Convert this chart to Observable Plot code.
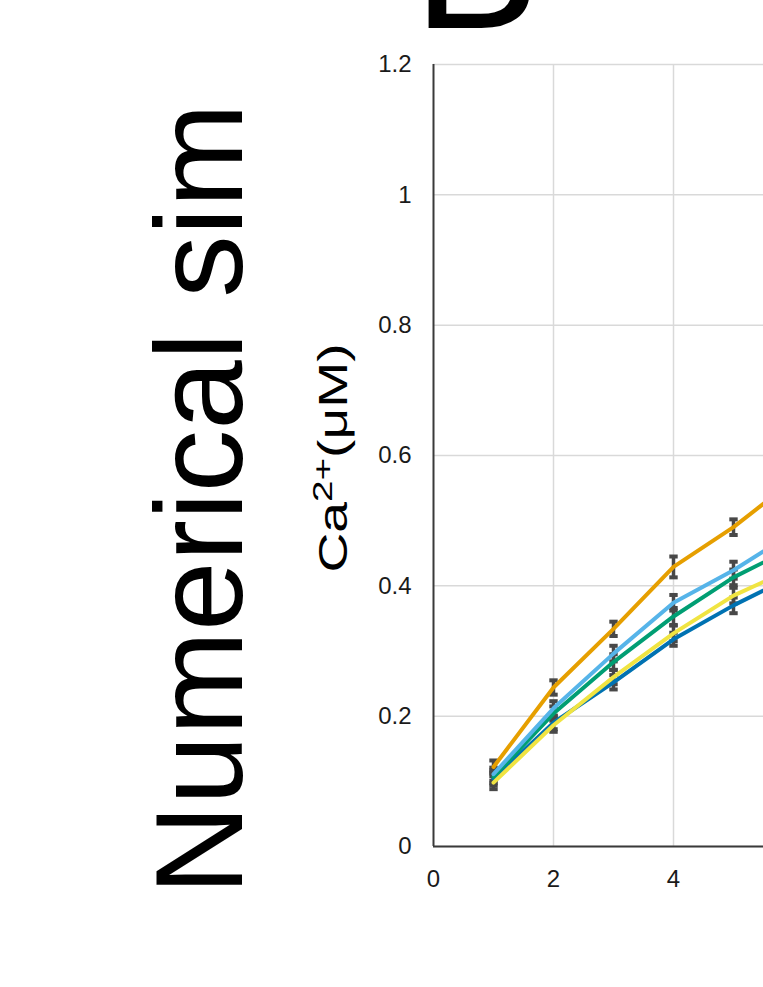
<!DOCTYPE html>
<html>
<head>
<meta charset="utf-8">
<script src="https://cdn.jsdelivr.net/npm/d3@7"></script>
<script src="https://cdn.jsdelivr.net/npm/@observablehq/plot@0.6"></script>
<style>
  html, body { margin: 0; padding: 0; background: #fff; }
  #chart svg { display: block; }
</style>
</head>
<body>
<div id="chart"></div>
<script>
// ---- Data ----
const timePoints = [1, 2, 3, 4, 5, 6];
const seriesNames = ["Series A", "Series B", "Series C", "Series D", "Series E"];
const seriesColors = ["#0072B2", "#009E73", "#56B4E9", "#F0E442", "#E69F00"];
const valuesA = [0.104, 0.190, 0.252, 0.318, 0.370, 0.416]; // dark blue
const valuesB = [0.107, 0.204, 0.283, 0.353, 0.413, 0.459]; // green
const valuesC = [0.111, 0.212, 0.296, 0.374, 0.424, 0.482]; // light blue
const valuesD = [0.098, 0.186, 0.260, 0.327, 0.385, 0.427]; // yellow
const valuesE = [0.122, 0.244, 0.334, 0.429, 0.490, 0.562]; // orange
const errorsA = [0.010, 0.010, 0.011, 0.010, 0.012, 0.012];
const errorsB = [0.010, 0.011, 0.012, 0.013, 0.012, 0.013];
const errorsC = [0.010, 0.011, 0.012, 0.012, 0.013, 0.013];
const errorsD = [0.010, 0.010, 0.011, 0.012, 0.012, 0.012];
const errorsE = [0.010, 0.011, 0.011, 0.016, 0.012, 0.013];
const yTicks = [0, 0.2, 0.4, 0.6, 0.8, 1, 1.2];
const xTicks = [0, 2, 4];
const xGrid = [2, 4, 6];
const yLabelMain = "Ca";
const yLabelSup = "2+";
const yLabelUnit = "(μM)";
const panelLetter = "B";
const rowLabel = "Numerical sim";

const allValues = [valuesA, valuesB, valuesC, valuesD, valuesE];
const allErrors = [errorsA, errorsB, errorsC, errorsD, errorsE];
const rows = [];
seriesNames.forEach((name, si) => {
  timePoints.forEach((t, i) => {
    rows.push({series: name, t, v: allValues[si][i], e: allErrors[si][i]});
  });
});

const W = 763, H = 987;
const font = "'Liberation Sans', Arial, Helvetica, sans-serif";

const plot = Plot.plot({
  width: W,
  height: H,
  marginLeft: 433,
  marginRight: 0,
  marginTop: 64,
  marginBottom: 141,
  style: {fontFamily: font, background: "#fff", overflow: "visible"},
  x: {domain: [0, 5.5]},
  y: {domain: [0, 1.2]},
  color: {domain: seriesNames, range: seriesColors},
  marks: [
    Plot.gridY(yTicks, {stroke: "#d9d9d9", strokeOpacity: 1, strokeWidth: 1.5}),
    Plot.gridX(xGrid, {stroke: "#d9d9d9", strokeOpacity: 1, strokeWidth: 1.5, clip: true}),
    Plot.axisY({ticks: yTicks, tickSize: 0, tickPadding: 22, fontSize: 24, fill: "#1a1a1a", label: null, tickFormat: d => String(d)}),
    Plot.axisX({ticks: xTicks, tickSize: 0, tickPadding: 23, fontSize: 24, fill: "#1a1a1a", label: null, tickFormat: d => String(d)}),
    // error bars
    Plot.ruleX(rows, {x: "t", y1: d => d.v - d.e, y2: d => d.v + d.e, stroke: "#484848", strokeWidth: 3.5, clip: true}),
    Plot.link(rows, {x1: d => d.t - 0.07, x2: d => d.t + 0.07, y1: d => d.v + d.e, y2: d => d.v + d.e, stroke: "#484848", strokeWidth: 4, clip: true}),
    Plot.link(rows, {x1: d => d.t - 0.07, x2: d => d.t + 0.07, y1: d => d.v - d.e, y2: d => d.v - d.e, stroke: "#484848", strokeWidth: 4, clip: true}),
    // lines
    Plot.line(rows, {x: "t", y: "v", z: "series", stroke: "series", strokeWidth: 4, clip: true}),
    Plot.ruleY([0], {stroke: "#3a3a3a", strokeWidth: 2}),
    Plot.ruleX([0], {stroke: "#3a3a3a", strokeWidth: 2})
  ]
});

document.getElementById("chart").appendChild(plot);

const svg = d3.select(plot);
// force tick label sizes
svg.selectAll('g[aria-label^="y-axis"] text').style("font-size", "24px").style("font-family", font);
svg.selectAll('g[aria-label^="x-axis"] text').style("font-size", "24px").style("font-family", font);
// panel letter
svg.append("text")
  .attr("x", 413).attr("y", 28)
  .attr("font-family", font).attr("font-size", 190)
  .attr("text-anchor", "start")
  .attr("fill", "#000")
  .text(panelLetter);
// row label (rotated)
svg.append("text")
  .attr("transform", "translate(242,895) rotate(-90)")
  .attr("font-family", font).attr("font-size", 125)
  .attr("text-anchor", "start")
  .attr("fill", "#000")
  .text(rowLabel);
// y axis label (rotated, horizontally stretched as in the reference)
const yl = svg.append("text")
  .attr("transform", "translate(347,458) rotate(-90) scale(1.38,1)")
  .attr("font-family", font).attr("font-size", 40)
  .attr("text-anchor", "middle")
  .attr("fill", "#000");
yl.append("tspan").text(yLabelMain);
yl.append("tspan").attr("font-size", 28).attr("dy", -15).text(yLabelSup);
yl.append("tspan").attr("dy", 15).text(yLabelUnit);
</script>
</body>
</html>
